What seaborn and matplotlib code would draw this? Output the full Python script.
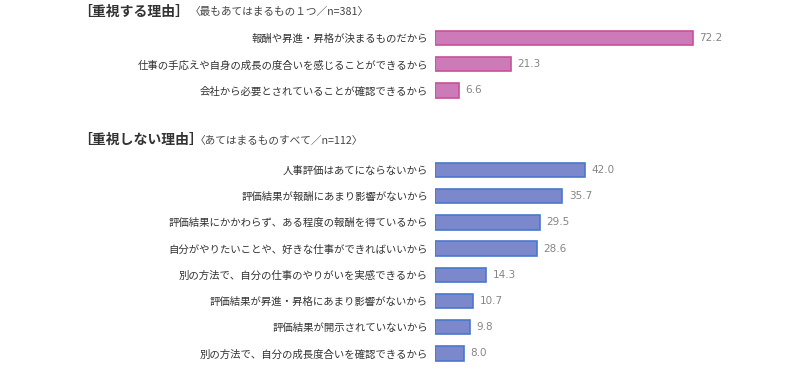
import pandas as pd
import seaborn as sns
import matplotlib.pyplot as plt

sns.set_style("white")
plt.rcParams['font.family'] = ['Noto Sans CJK JP', 'DejaVu Sans']

top_title = "［重視する理由］"
top_note = "〈最もあてはまるもの１つ／n=381〉"
top_labels = [
    "報酬や昇進・昇格が決まるものだから",
    "仕事の手応えや自身の成長の度合いを感じることができるから",
    "会社から必要とされていることが確認できるから",
]
top_values = [72.2, 21.3, 6.6]

bottom_title = "［重視しない理由］"
bottom_note = "〈あてはまるものすべて／n=112〉"
bottom_labels = [
    "人事評価はあてにならないから",
    "評価結果が報酬にあまり影響がないから",
    "評価結果にかかわらず、ある程度の報酬を得ているから",
    "自分がやりたいことや、好きな仕事ができればいいから",
    "別の方法で、自分の仕事のやりがいを実感できるから",
    "評価結果が昇進・昇格にあまり影響がないから",
    "評価結果が開示されていないから",
    "別の方法で、自分の成長度合いを確認できるから",
]
bottom_values = [42.0, 35.7, 29.5, 28.6, 14.3, 10.7, 9.8, 8.0]

W, H = 790, 376
fig = plt.figure(figsize=(W / 100, H / 100), dpi=100)

x0 = 435
unit = 3.57  # px per percent
step = 26.2


def panel(labels, values, first_center, fill, edge):
    n = len(labels)
    top = first_center - step / 2
    height = n * step
    ax = fig.add_axes([x0 / W, 1 - (top + height) / H, 100 * unit / W, height / H])
    df = pd.DataFrame({"label": labels, "value": values})
    sns.barplot(data=df, x="value", y="label", orient="h", ax=ax,
                color=fill, edgecolor=edge, linewidth=1.2, width=0.55,
                saturation=1)
    ax.set_xlim(0, 100)
    ax.set_ylim(n - 0.5, -0.5)
    ax.set_xlabel("")
    ax.set_ylabel("")
    ax.set_xticks([])
    for s in ax.spines.values():
        s.set_visible(False)
    ax.tick_params(axis="y", length=0, pad=5, labelsize=7.5, labelcolor="#333333")
    for i, v in enumerate(values):
        ax.text(v + 1.8, i, f"{v:.1f}", va="center", ha="left",
                fontsize=7.5, color="#858585", family="DejaVu Sans")
    return ax


panel(top_labels, top_values, 38, "#cc7ab8", "#c8509a")
panel(bottom_labels, bottom_values, 170, "#7b89cc", "#4a78cc")

fig.text(78 / W, 1 - 12 / H, top_title, fontsize=10, fontweight="bold",
         color="#333333", va="center")
fig.text(190 / W, 1 - 12 / H, top_note, fontsize=7.7, color="#444444", va="center")
fig.text(78 / W, 1 - 140 / H, bottom_title, fontsize=10, fontweight="bold",
         color="#333333", va="center")
fig.text(195 / W, 1 - 140 / H, bottom_note, fontsize=7.7, color="#444444", va="center")

fig.savefig("out.png", dpi=100)
